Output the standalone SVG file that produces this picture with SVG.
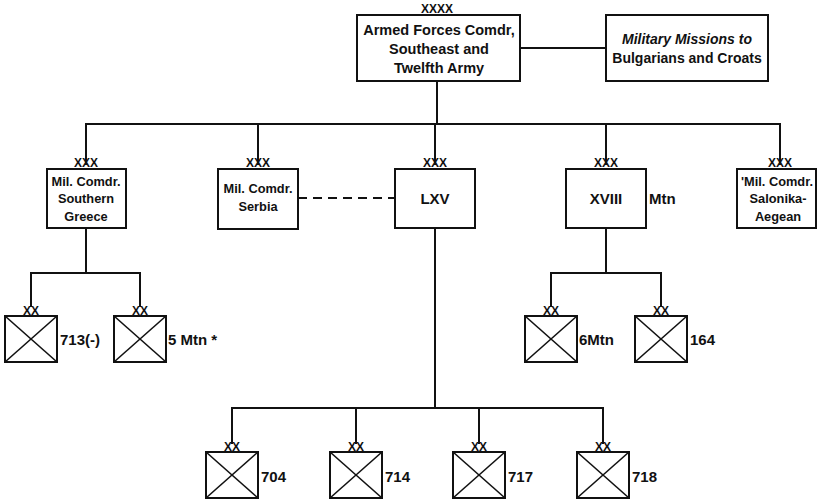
<svg xmlns="http://www.w3.org/2000/svg" width="826" height="501" viewBox="0 0 826 501">
<style>
.box{fill:#fff;stroke:#111;stroke-width:2}
.ln{fill:none;stroke:#111;stroke-width:2}
.dash{fill:none;stroke:#111;stroke-width:2;stroke-dasharray:9,6}
.x{stroke:#111;stroke-width:1.6}
text{font-family:"Liberation Sans",Arial,sans-serif;font-weight:bold;fill:#111}
.t{font-size:14.5px;text-anchor:middle}
.mm{font-size:14px;text-anchor:middle}
.m{font-size:12.8px;text-anchor:middle}
.e{font-size:12px;text-anchor:middle}
.lb{font-size:15px}
</style>
<defs>
<g id="div">
<rect class="box" x="0" y="0" width="52" height="46"/>
<line class="x" x1="0" y1="0" x2="52" y2="46"/>
<line class="x" x1="52" y1="0" x2="0" y2="46"/>
<text class="e" x="26" y="-1">XX</text>
</g>
</defs>
<rect width="826" height="501" fill="#fff"/>
<g id="connectors">
<line class="ln" x1="520" y1="48" x2="606" y2="48"/>
<line class="ln" x1="437" y1="81" x2="437" y2="124"/>
<polyline class="ln" points="86,165 86,124 780,124 780,165"/>
<line class="ln" x1="258" y1="124" x2="258" y2="165"/>
<line class="ln" x1="435" y1="124" x2="435" y2="165"/>
<line class="ln" x1="606" y1="124" x2="606" y2="165"/>
<line class="dash" x1="298" y1="198" x2="395" y2="198"/>
<line class="ln" x1="86" y1="228" x2="86" y2="273"/>
<polyline class="ln" points="31,307 31,273 140,273 140,307"/>
<line class="ln" x1="606" y1="228" x2="606" y2="273"/>
<polyline class="ln" points="551,307 551,273 661,273 661,307"/>
<line class="ln" x1="435" y1="228" x2="435" y2="408"/>
<polyline class="ln" points="232,444 232,408 603,408 603,444"/>
<line class="ln" x1="356" y1="408" x2="356" y2="444"/>
<line class="ln" x1="479" y1="408" x2="479" y2="444"/>
</g>
<g id="top">
<rect class="box" x="357" y="15" width="163" height="66"/>
<text class="e" x="437" y="13">XXXX</text>
<text class="t" x="439" y="35">Armed Forces Comdr,</text>
<text class="t" x="439" y="54">Southeast  and</text>
<text class="t" x="439" y="73">Twelfth Army</text>
</g>
<g id="missions">
<rect class="box" x="606" y="15" width="162" height="66"/>
<text class="mm" x="687" y="44" font-style="italic">Military Missions to</text>
<text class="mm" x="687" y="63">Bulgarians and Croats</text>
</g>
<g id="greece">
<rect class="box" x="47" y="169" width="79" height="59"/>
<text class="e" x="86" y="167">XXX</text>
<text class="m" x="86" y="186">Mil. Comdr.</text>
<text class="m" x="86" y="203">Southern</text>
<text class="m" x="86" y="221">Greece</text>
</g>
<g id="serbia">
<rect class="box" x="218" y="169" width="80" height="60"/>
<text class="e" x="258" y="167">XXX</text>
<text class="m" x="258" y="193">Mil. Comdr.</text>
<text class="m" x="258" y="211">Serbia</text>
</g>
<g id="lxv">
<rect class="box" x="395" y="169" width="80" height="59"/>
<text class="e" x="435" y="167">XXX</text>
<text class="lb" x="435" y="204" text-anchor="middle">LXV</text>
</g>
<g id="xviii">
<rect class="box" x="566" y="169" width="80" height="59"/>
<text class="e" x="606" y="167">XXX</text>
<text class="lb" x="606" y="204" text-anchor="middle">XVIII</text>
<text class="lb" x="649" y="204">Mtn</text>
</g>
<g id="salonika">
<rect class="box" x="737" y="169" width="79" height="59"/>
<text class="e" x="780" y="167">XXX</text>
<text class="m" x="777" y="186">'Mil. Comdr.</text>
<text class="m" x="778" y="203">Salonika-</text>
<text class="m" x="778" y="221">Aegean</text>
</g>
<g id="d713"><use href="#div" x="5" y="316"/><text class="lb" x="60" y="345">713(-)</text></g>
<g id="d5mtn"><use href="#div" x="114" y="316"/><text class="lb" x="168" y="345">5 Mtn *</text></g>
<g id="d6mtn"><use href="#div" x="525" y="316"/><text class="lb" x="579" y="345">6Mtn</text></g>
<g id="d164"><use href="#div" x="635" y="316"/><text class="lb" x="690" y="345">164</text></g>
<g id="d704"><use href="#div" x="206" y="452"/><text class="lb" x="261" y="482">704</text></g>
<g id="d714"><use href="#div" x="330" y="452"/><text class="lb" x="385" y="482">714</text></g>
<g id="d717"><use href="#div" x="453" y="452"/><text class="lb" x="508" y="482">717</text></g>
<g id="d718"><use href="#div" x="577" y="452"/><text class="lb" x="632" y="482">718</text></g>
</svg>
